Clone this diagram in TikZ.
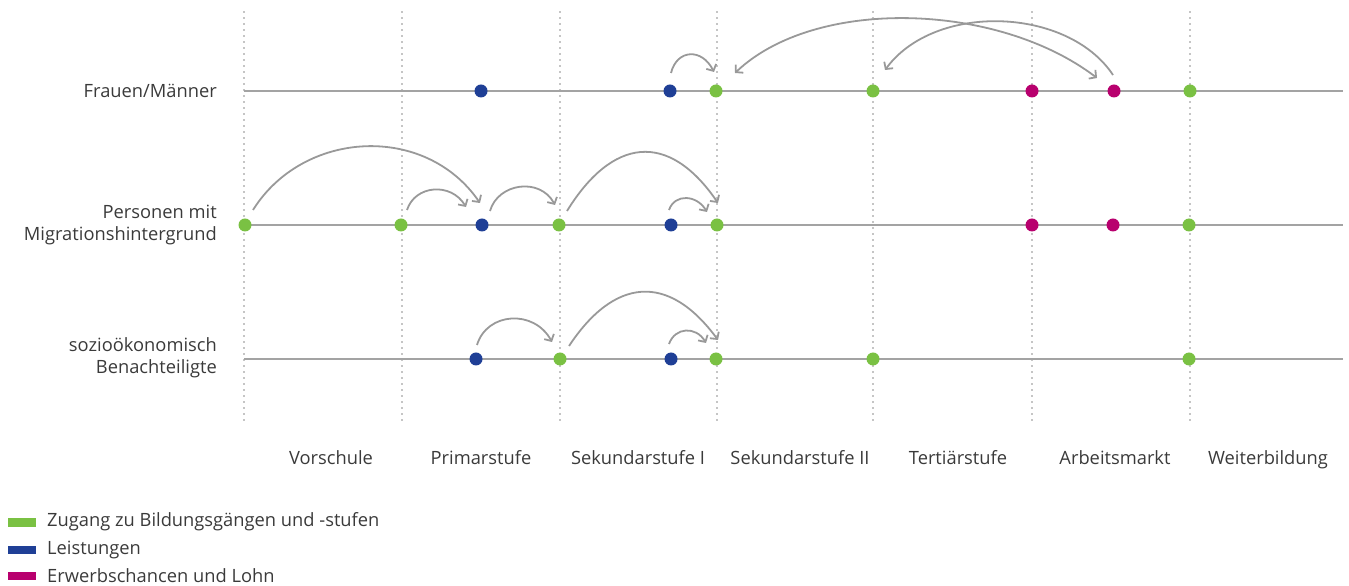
\documentclass[tikz,border=0pt]{standalone}
\usepackage{fontspec}
\setmainfont{Open Sans}
\usetikzlibrary{arrows.meta}
\definecolor{cgreen}{HTML}{7AC143}
\definecolor{cblue}{HTML}{1F3F96}
\definecolor{cmag}{HTML}{B8006E}
\definecolor{cline}{HTML}{A3A3A3}
\definecolor{carc}{HTML}{999999}
\definecolor{cdot}{HTML}{8A8A8A}
\definecolor{ctext}{HTML}{3A3A3A}
\tikzset{
  dotg/.style={circle,fill=cgreen,minimum size=13pt,inner sep=0pt},
  dotb/.style={circle,fill=cblue,minimum size=13pt,inner sep=0pt},
  dotm/.style={circle,fill=cmag,minimum size=13pt,inner sep=0pt},
  rowline/.style={draw=cline,line width=2pt},
  vline/.style={draw=cdot,line width=1.6pt,line cap=round,dash pattern=on 0pt off 6pt},
  arc/.style={draw=carc,line width=1.8pt,-{Straight Barb[length=5pt,width=11pt]}},
  darc/.style={draw=carc,line width=1.8pt,{Straight Barb[length=5pt,width=11pt]}-{Straight Barb[length=5pt,width=11pt]}},
  lbl/.style={text=ctext,font=\fontsize{18.3}{22}\selectfont,inner sep=0pt},
  leg/.style={text=ctext,font=\fontsize{18.3}{22}\selectfont,inner sep=0pt,anchor=west},
}
\begin{document}
\begin{tikzpicture}[x=1pt,y=1pt]
\useasboundingbox (0,0) rectangle (1349,586);
% vertical dotted lines
\foreach \x [count=\i] in {244,402,560,717,873,1032,1190}{
  \coordinate (vt\i) at (\x,574);
  \coordinate (vb\i) at (\x,166);
  \draw[vline] (vt\i) -- (vb\i);
}
% row lines
\coordinate (r1a) at (244,495); \coordinate (r1b) at (1343,495);
\coordinate (r2a) at (244,361); \coordinate (r2b) at (1343,361);
\coordinate (r3a) at (244,227); \coordinate (r3b) at (1343,227);
\draw[rowline] (r1a) -- (r1b);
\draw[rowline] (r2a) -- (r2b);
\draw[rowline] (r3a) -- (r3b);
% row labels
\node[lbl,anchor=east] (l1) at (217,495) {Frauen/Männer};
\node[lbl,anchor=east,align=right] (l2) at (217,361) {Personen mit\\Migrationshintergrund};
\node[lbl,anchor=east,align=right] (l3) at (217,228) {sozioökonomisch\\Benachteiligte};
% row 1 dots
\node[dotb] (b1a) at (481,495) {};
\node[dotb] (b1b) at (670,495) {};
\node[dotg] (g1c) at (716,495) {};
\node[dotg] (g1d) at (873,495) {};
\node[dotm] (m1a) at (1032,495) {};
\node[dotm] (m1b) at (1114,495) {};
\node[dotg] (g1e) at (1190,495) {};
% row 2 dots
\node[dotg] (d21) at (245,361) {};
\node[dotg] (d22) at (401,361) {};
\node[dotb] (d23) at (482,361) {};
\node[dotg] (d24) at (559,361) {};
\node[dotb] (d25) at (671,361) {};
\node[dotg] (d26) at (717,361) {};
\node[dotm] (d27) at (1032,361) {};
\node[dotm] (d28) at (1113,361) {};
\node[dotg] (d29) at (1189,361) {};
% row 3 dots
\node[dotb] (d31) at (476,227) {};
\node[dotg] (d32) at (560,227) {};
\node[dotb] (d33) at (671,227) {};
\node[dotg] (d34) at (716,227) {};
\node[dotg] (d35) at (873,227) {};
\node[dotg] (d36) at (1189,227) {};
% row 1 arcs
\draw[arc] ([shift={(1,18)}]b1b.center) .. controls +(6,24) and +(-12,24) .. ([shift={(-2,19)}]g1c.center);
\draw[darc] ([shift={(19,18)}]g1c.center) .. controls +(80,76) and +(-100,76) .. ([shift={(-17,13)}]m1b.center);
\draw[arc] ([shift={(-1,16)}]m1b.center) .. controls +(-45,68) and +(50,68) .. ([shift={(12,21)}]g1d.center);
% row 2 arcs
\draw[arc] ([shift={(8,15)}]d21.center) .. controls +(50,80) and +(-55,80) .. ([shift={(-2,22)}]d23.center);
\draw[arc] ([shift={(6,15)}]d22.center) .. controls +(8,25) and +(-15,25) .. ([shift={(-16,18)}]d23.center);
\draw[arc] ([shift={(8,14)}]d23.center) .. controls +(8,28) and +(-15,28) .. ([shift={(-4,20)}]d24.center);
\draw[arc] ([shift={(8,14)}]d24.center) .. controls +(45,73) and +(-50,73) .. ([shift={(1,22)}]d26.center);
\draw[arc] ([shift={(-2,15)}]d25.center) .. controls +(6,17) and +(-10,17) .. ([shift={(-10,13)}]d26.center);
% row 3 arcs
\draw[arc] ([shift={(1,14)}]d31.center) .. controls +(10,33) and +(-18,33) .. ([shift={(-8,17)}]d32.center);
\draw[arc] ([shift={(9,13)}]d32.center) .. controls +(45,68) and +(-50,68) .. ([shift={(2,19)}]d34.center);
\draw[arc] ([shift={(-2,15)}]d33.center) .. controls +(6,17) and +(-10,17) .. ([shift={(-10,16)}]d34.center);
% column labels
\node[lbl,anchor=base] (c1) at (331,121) {Vorschule};
\node[lbl,anchor=base] (c2) at (481,121) {Primarstufe};
\node[lbl,anchor=base] (c3) at (638,121) {Sekundarstufe I};
\node[lbl,anchor=base] (c4) at (800,121) {Sekundarstufe II};
\node[lbl,anchor=base] (c5) at (958,121) {Tertiärstufe};
\node[lbl,anchor=base] (c6) at (1115,121) {Arbeitsmarkt};
\node[lbl,anchor=base] (c7) at (1268,121) {Weiterbildung};
% legend
\fill[cgreen] (8,59) rectangle (36,68);
\fill[cblue] (8,32) rectangle (36,40);
\fill[cmag] (8,6) rectangle (36,14);
\node[leg] (k1) at (47,64) {Zugang zu Bildungsgängen und -stufen};
\node[leg] (k2) at (47,36) {Leistungen};
\node[leg] (k3) at (47,10) {Erwerbschancen und Lohn};
\end{tikzpicture}
\end{document}
